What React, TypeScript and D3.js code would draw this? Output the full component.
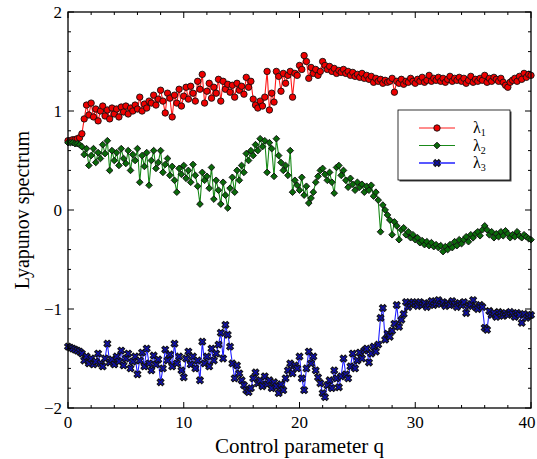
import { useEffect, useRef } from "react";
import * as d3 from "d3";

// control parameter grid, step 0.2 from 0 to 40
const qValues = d3.range(0, 201).map((i) => +(i * 0.2).toFixed(1));

const lambda1 = [
  0.70, 0.70, 0.71, 0.71, 0.72, 0.73, 0.77, 0.92, 1.06, 0.96,
  1.08, 0.94, 1.02, 0.90, 1.00, 1.05, 0.95, 1.01, 0.92, 1.03,
  0.97, 1.02, 0.94, 1.04, 0.99, 1.05, 0.97, 1.03, 1.00, 1.06,
  1.02, 1.14, 1.00, 1.07, 1.03, 1.10, 1.08, 1.16, 1.06, 1.12,
  1.21, 1.10, 0.98, 1.18, 1.13, 0.94, 1.16, 1.08, 1.22, 1.05,
  1.15, 1.24, 1.12, 1.25, 1.18, 1.10, 1.30, 1.22, 1.37, 1.08,
  1.20, 1.28, 1.13, 1.24, 1.18, 1.32, 1.10, 1.30, 1.22, 1.27,
  1.19, 1.26, 1.14, 1.28, 1.21, 1.25, 1.17, 1.34, 1.24, 1.30,
  1.12, 1.06, 1.03, 1.10, 1.05, 1.14, 1.40, 1.01, 1.18, 1.09,
  1.40, 1.35, 1.20, 1.38, 1.28, 1.36, 1.40, 1.14, 1.38, 1.36,
  1.46, 1.42, 1.56, 1.50, 1.33, 1.44, 1.38, 1.42, 1.36, 1.40,
  1.50, 1.46, 1.42, 1.45, 1.40, 1.43, 1.38, 1.41, 1.39, 1.42,
  1.38, 1.40, 1.36, 1.39, 1.35, 1.37, 1.34, 1.38, 1.33, 1.36,
  1.32, 1.35, 1.29, 1.33, 1.30, 1.32, 1.28, 1.31, 1.29, 1.30,
  1.33, 1.19, 1.30, 1.28, 1.32, 1.27, 1.30, 1.29, 1.33, 1.30,
  1.28, 1.32, 1.30, 1.34, 1.29, 1.31, 1.36, 1.30, 1.33, 1.31,
  1.34, 1.30, 1.33, 1.29, 1.32, 1.35, 1.30, 1.33, 1.31, 1.34,
  1.30, 1.33, 1.28, 1.31, 1.35, 1.29, 1.32, 1.30, 1.33, 1.31,
  1.36, 1.29, 1.33, 1.30, 1.34, 1.32, 1.30, 1.33, 1.29, 1.26,
  1.24, 1.29, 1.31, 1.33, 1.30, 1.35, 1.32, 1.38, 1.34, 1.37,
  1.36,
];

const lambda2 = [
  0.68, 0.68, 0.68, 0.67, 0.67, 0.66, 0.64, 0.56, 0.62, 0.45,
  0.55, 0.62, 0.48, 0.58, 0.52, 0.66, 0.57, 0.70, 0.40, 0.60,
  0.50, 0.58, 0.45, 0.62, 0.52, 0.47, 0.60, 0.40, 0.56, 0.50,
  0.62, 0.28, 0.55, 0.44, 0.58, 0.25, 0.50, 0.60, 0.42, 0.48,
  0.60, 0.38, 0.46, 0.52, 0.35, 0.44, 0.30, 0.18, 0.42, 0.36,
  0.45, 0.32, 0.40, 0.28, 0.46, 0.35, 0.24, 0.06, 0.38, 0.30,
  0.34, 0.22, 0.43, 0.11, 0.30, 0.20, 0.06, 0.28, 0.15, 0.02,
  0.22, 0.33, 0.18, 0.40, 0.30, 0.45, 0.38, 0.57, 0.50, 0.60,
  0.55, 0.66, 0.60, 0.72, 0.64, 0.70, 0.38, 0.68, 0.62, 0.34,
  0.72, 0.55, 0.48, 0.40, 0.45, 0.35, 0.60, 0.18, 0.30, 0.25,
  0.20, 0.33, 0.15, 0.24, 0.07, 0.12, 0.18, 0.28, 0.34, 0.40,
  0.42, 0.36, 0.30, 0.38, 0.28, 0.17, 0.43, 0.45, 0.35, 0.40,
  0.30, 0.23, 0.32, 0.26, 0.20, 0.28, 0.23, 0.26, 0.18, 0.24,
  0.20, 0.25, 0.14, 0.18, 0.10, -0.22, 0.05, 0.00, -0.05, -0.10,
  -0.25, -0.12, -0.16, -0.30, -0.20, -0.18, -0.25, -0.22, -0.28, -0.25,
  -0.30, -0.28, -0.33, -0.31, -0.35, -0.32, -0.36, -0.33, -0.37, -0.35,
  -0.38, -0.36, -0.42, -0.37, -0.40, -0.35, -0.38, -0.32, -0.36, -0.30,
  -0.34, -0.30, -0.27, -0.32, -0.25, -0.28, -0.24, -0.22, -0.26, -0.20,
  -0.16, -0.20, -0.25, -0.22, -0.28, -0.24, -0.27, -0.22, -0.26, -0.21,
  -0.24, -0.28, -0.25, -0.27, -0.22, -0.26, -0.28, -0.25, -0.27, -0.29,
  -0.30,
];

const lambda3 = [
  -1.38, -1.39, -1.40, -1.41, -1.42, -1.43, -1.45, -1.52, -1.48, -1.55,
  -1.50, -1.56, -1.53, -1.45, -1.55, -1.58, -1.50, -1.35, -1.54, -1.51,
  -1.56, -1.48, -1.53, -1.42, -1.57, -1.50, -1.45, -1.60, -1.53, -1.48,
  -1.66, -1.52, -1.44, -1.58, -1.40, -1.55, -1.62, -1.47, -1.56, -1.51,
  -1.74, -1.60, -1.41, -1.52, -1.46, -1.58, -1.35, -1.55, -1.48, -1.62,
  -1.69, -1.50, -1.43, -1.56, -1.48, -1.60, -1.52, -1.72, -1.33, -1.55,
  -1.48, -1.58, -1.40, -1.52, -1.45, -1.36, -1.24, -1.50, -1.16, -1.26,
  -1.38, -1.55, -1.70, -1.57, -1.65, -1.72, -1.77, -1.82, -1.84, -1.80,
  -1.70, -1.64, -1.75, -1.72, -1.78, -1.68, -1.76, -1.72, -1.80, -1.74,
  -1.78, -1.85, -1.76, -1.82, -1.70, -1.62, -1.55, -1.65, -1.57, -1.60,
  -1.48, -1.70, -1.82, -1.60, -1.43, -1.55, -1.48, -1.62, -1.69, -1.75,
  -1.85, -1.89, -1.77, -1.72, -1.80, -1.62, -1.70, -1.79, -1.68, -1.50,
  -1.66, -1.70, -1.58, -1.45, -1.60, -1.52, -1.44, -1.50, -1.42, -1.40,
  -1.54, -1.45, -1.38, -1.43, -1.36, -1.09, -0.99, -1.31, -1.25, -1.28,
  -1.22, -1.15, -0.96, -1.18, -1.11, -1.05, -0.93, -0.98, -0.95, -0.93,
  -0.95, -0.97, -0.93, -0.96, -0.94, -0.98, -0.95, -0.92, -0.96, -0.94,
  -0.91, -0.95, -0.93, -0.97, -0.94, -0.96, -0.92, -0.95, -0.98, -0.94,
  -0.96, -0.93, -1.04, -0.97, -0.95, -0.91, -0.98, -1.00, -0.96, -0.98,
  -1.19, -1.21, -1.02, -1.06, -1.04, -1.08, -1.03, -1.05, -1.07, -1.04,
  -1.06, -1.03, -1.05, -1.08, -1.04, -1.06, -1.14, -1.05, -1.09, -1.07,
  -1.06,
];

const xTicks = [0, 10, 20, 30, 40];
const yTicks = [-2, -1, 0, 1, 2];
const legendLabels = ["1", "2", "3"];

const width = 537;
const height = 459;
const font = "'Liberation Serif', 'Times New Roman', serif";

const App = () => {
  const svgRef = useRef<SVGSVGElement | null>(null);

  useEffect(() => {
    const margin = { top: 12, right: 6, bottom: 51, left: 68 };
    const svg = d3.select(svgRef.current);
    svg.selectAll("*").remove();

    const x = d3.scaleLinear().domain([0, 40]).range([margin.left, width - margin.right]);
    const y = d3.scaleLinear().domain([-2, 2]).range([height - margin.bottom, margin.top]);
    const [x0, x1] = x.range();
    const [y0, y1] = y.range();

    const series = [
      { key: "l1", values: lambda1, line: "#ff1a1a", fill: "#ee0000", symbol: "circle" },
      { key: "l2", values: lambda2, line: "#1a8a1a", fill: "#0a6a0a", symbol: "diamond" },
      { key: "l3", values: lambda3, line: "#2020ff", fill: "#1010a8", symbol: "xcross" },
    ];

    const drawMarker = (g, symbol, fill) => {
      if (symbol === "circle") {
        g.append("circle").attr("r", 3.2).attr("fill", fill).attr("stroke", "#111").attr("stroke-width", 0.9);
      } else if (symbol === "diamond") {
        g.append("path")
          .attr("d", d3.symbol(d3.symbolSquare, 22)())
          .attr("transform", "rotate(45)")
          .attr("fill", fill).attr("stroke", "#111").attr("stroke-width", 0.9);
      } else {
        g.append("path")
          .attr("d", d3.symbol(d3.symbolCross, 30)())
          .attr("transform", "rotate(45)")
          .attr("fill", fill).attr("stroke", "#111").attr("stroke-width", 1);
      }
    };

    const plot = svg.append("g");
    const line = d3.line<number>().x((_, i) => x(qValues[i])).y((d) => y(d));

    series.forEach((s) => {
      plot.append("path")
        .attr("d", line(s.values))
        .attr("fill", "none")
        .attr("stroke", s.line)
        .attr("stroke-width", 1.1);
      plot.append("g")
        .selectAll("g")
        .data(s.values)
        .join("g")
        .attr("transform", (d, i) => `translate(${x(qValues[i])},${y(d)})`)
        .each(function () {
          drawMarker(d3.select(this), s.symbol, s.fill);
        });
    });

    // frame
    svg.append("rect")
      .attr("x", x0).attr("y", y1)
      .attr("width", x1 - x0).attr("height", y0 - y1)
      .attr("fill", "none").attr("stroke", "#000").attr("stroke-width", 1.3);

    // inward ticks on all four sides
    const ticks = svg.append("g").attr("stroke", "#000").attr("stroke-width", 1);
    const xMinor = d3.range(0, 41, 2);
    const yMinor = d3.range(-2, 2.01, 0.2);
    xMinor.forEach((v) => {
      const len = v % 10 === 0 ? 6 : 3;
      ticks.append("line").attr("x1", x(v)).attr("x2", x(v)).attr("y1", y0).attr("y2", y0 - len);
      ticks.append("line").attr("x1", x(v)).attr("x2", x(v)).attr("y1", y1).attr("y2", y1 + len);
    });
    yMinor.forEach((v) => {
      const major = Math.abs(v - Math.round(v)) < 1e-6;
      const len = major ? 6 : 3;
      ticks.append("line").attr("x1", x0).attr("x2", x0 + len).attr("y1", y(v)).attr("y2", y(v));
      ticks.append("line").attr("x1", x1).attr("x2", x1 - len).attr("y1", y(v)).attr("y2", y(v));
    });

    // tick labels
    svg.append("g")
      .selectAll("text")
      .data(xTicks)
      .join("text")
      .attr("x", (d) => Math.min(x(d), width - 10))
      .attr("y", y0 + 20)
      .attr("text-anchor", "middle")
      .attr("font-family", font)
      .attr("font-size", 17)
      .text((d) => d);

    svg.append("g")
      .selectAll("text")
      .data(yTicks)
      .join("text")
      .attr("x", x0 - 6)
      .attr("y", (d) => y(d) + 6)
      .attr("text-anchor", "end")
      .attr("font-family", font)
      .attr("font-size", 17)
      .text((d) => (d < 0 ? `\u2212${-d}` : `${d}`));

    // axis titles
    svg.append("text")
      .attr("x", (x0 + x1) / 2)
      .attr("y", 453)
      .attr("text-anchor", "middle")
      .attr("font-family", font)
      .attr("font-size", 21)
      .text("Control parameter q");

    svg.append("text")
      .attr("transform", `translate(29,${(y0 + y1) / 2}) rotate(-90)`)
      .attr("text-anchor", "middle")
      .attr("font-family", font)
      .attr("font-size", 20)
      .text("Lyapunov spectrum");

    // legend
    const lg = svg.append("g").attr("transform", "translate(398,110)");
    lg.append("rect").attr("x", 1.5).attr("y", 1.5).attr("width", 112).attr("height", 70).attr("fill", "#444");
    lg.append("rect").attr("width", 112).attr("height", 70).attr("fill", "#fff").attr("stroke", "#000").attr("stroke-width", 0.8);
    series.forEach((s, i) => {
      const row = lg.append("g").attr("transform", `translate(0,${18 + i * 17.5})`);
      row.append("line").attr("x1", 21).attr("x2", 57).attr("y1", 0).attr("y2", 0)
        .attr("stroke", s.line).attr("stroke-width", i === 2 ? 1.6 : 1);
      drawMarker(row.append("g").attr("transform", "translate(39,0)"), s.symbol, s.fill);
      const t = row.append("text")
        .attr("x", 75).attr("y", 5)
        .attr("font-family", font)
        .attr("font-size", 16);
      t.append("tspan").text("\u03bb");
      t.append("tspan").attr("font-size", 10).attr("dy", 3).text(legendLabels[i]);
    });
  }, []);

  return (
    <svg
      ref={svgRef}
      width={width}
      height={height}
      style={{ position: "absolute", left: 0, top: 0, background: "#fff" }}
    />
  );
};

export default App;
